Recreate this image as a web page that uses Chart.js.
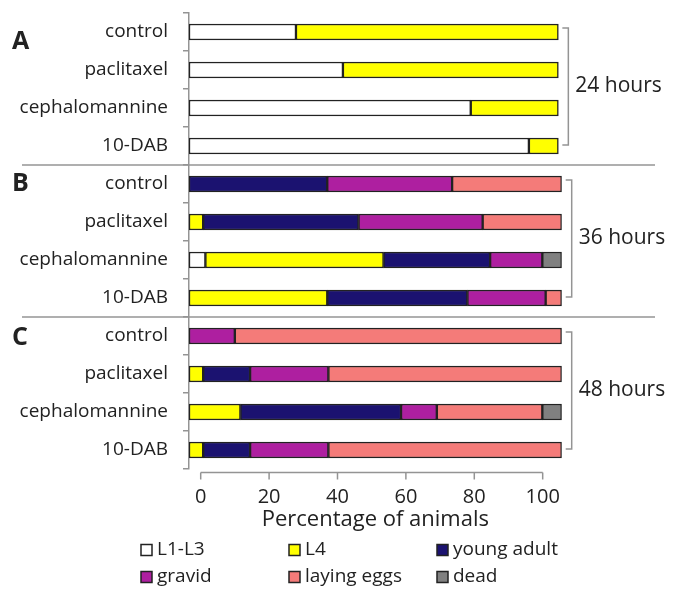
<!DOCTYPE html>
<html>
<head>
<meta charset="utf-8">
<script src="https://cdn.jsdelivr.net/npm/chart.js@4.4.1/dist/chart.umd.min.js"></script>
<style>
  html, body { margin: 0; padding: 0; background: #fff; }
</style>
</head>
<body>
<canvas id="grafico" width="682" height="591"></canvas>
<script>
const tratamientos = ["control", "paclitaxel", "cephalomannine", "10-DAB"]
const paneles = ["A", "B", "C"]
const tiempos = ["24 hours", "36 hours", "48 hours"]
const categorias = [...tratamientos, ...tratamientos, ...tratamientos]

// % de animales por estadio; filas: A (24 h) x4, B (36 h) x4, C (48 h) x4
const l1l3       = [28.7, 41.3, 75.6, 91.2,  null, null, 4.4, null,  null, null, null, null]
const l4         = [70.4, 57.8, 23.5, 7.9,   null, 3.8, 47.8, 37.1,  null, 3.8, 13.8, 3.8]
const youngAdult = [null, null, null, null,  37.1, 41.7, 28.6, 37.6, null, 12.6, 43.1, 12.6]
const gravid     = [null, null, null, null,  33.5, 33.3, 14.0, 21.0, 12.3, 21.0, 9.6, 21.0]
const layingEggs = [null, null, null, null,  29.4, 21.2, null, 4.3,  87.7, 62.6, 28.3, 62.6]
const dead       = [null, null, null, null,  null, null, 5.2, null,  null, null, 5.2, null]
const xTicks = [0, 20, 40, 60, 80, 100]

const etapas = [
    { label: "L1-L3", data: l1l3, color: "#ffffff" },
    { label: "L4", data: l4, color: "#ffff00" },
    { label: "young adult", data: youngAdult, color: "#1b1270" },
    { label: "gravid", data: gravid, color: "#ae1fa0" },
    { label: "laying eggs", data: layingEggs, color: "#f47b79" },
    { label: "dead", data: dead, color: "#808080" }
]

const fuente = "'Open Sans', sans-serif"
const texto = "#222"
const gris = "#949494"

const extras = {
    id: "extras",
    afterDraw(chart) {
        const ctx = chart.ctx
        const x = chart.scales.x
        const y = chart.scales.y
        const x2 = chart.scales.x2
        const area = chart.chartArea
        const linea = (a, b, c, d) => {
            ctx.beginPath()
            ctx.moveTo(a, b)
            ctx.lineTo(c, d)
            ctx.stroke()
        }
        ctx.save()
        ctx.strokeStyle = gris
        ctx.lineWidth = 1.5

        // lineas que separan los paneles
        for (let p = 1; p < paneles.length; p++) {
            const yy = (y.getPixelForValue(p * 4 - 1) + y.getPixelForValue(p * 4)) / 2
            linea(22, yy, 655, yy)
        }

        // eje x de abajo, solo de 0 a 100
        const ejeY = area.bottom + 3.5
        linea(x2.getPixelForValue(xTicks[0]), ejeY, x2.getPixelForValue(xTicks[xTicks.length - 1]), ejeY)
        xTicks.forEach(v => {
            const px = x2.getPixelForValue(v)
            linea(px, ejeY, px, ejeY + 7)
        })

        // llaves y horas
        const offsets = [10, 0, 2]
        paneles.forEach((letra, p) => {
            const i0 = p * 4
            const i1 = p * 4 + 3
            let fin = 0
            for (let i = i0; i <= i1; i++) {
                const suma = etapas.reduce((s, e) => s + (e.data[i] || 0), 0)
                fin = Math.max(fin, suma)
            }
            const bx = x.getPixelForValue(fin) + 10
            const arriba = y.getPixelForValue(i0) - 4
            const abajo = y.getPixelForValue(i1) - 1
            ctx.strokeStyle = gris
            ctx.beginPath()
            ctx.moveTo(bx - 6, arriba)
            ctx.lineTo(bx, arriba)
            ctx.lineTo(bx, abajo)
            ctx.lineTo(bx - 6, abajo)
            ctx.stroke()

            ctx.fillStyle = texto
            ctx.textBaseline = "middle"
            ctx.textAlign = "left"
            ctx.font = "21px " + fuente
            ctx.fillText(tiempos[p], bx + 7, (arriba + abajo) / 2)

            ctx.font = "bold 25px " + fuente
            ctx.fillText(letra, 12, y.getPixelForValue(i0) + offsets[p])
        })

        // leyenda en 3 columnas
        ctx.font = "19px " + fuente
        ctx.lineWidth = 1.5
        etapas.forEach((e, k) => {
            const col = k % 3
            const fila = Math.floor(k / 3)
            const bx = 141 + col * 148
            const by = 550 + fila * 27
            ctx.fillStyle = e.color
            ctx.fillRect(bx, by - 5.5, 11, 11)
            ctx.strokeStyle = texto
            ctx.strokeRect(bx, by - 5.5, 11, 11)
            ctx.fillStyle = texto
            ctx.fillText(e.label, bx + 16, by)
        })
        ctx.restore()
    }
}

const canvas = document.getElementById("grafico")

const grafico = new Chart(canvas, {
    type: "bar",
    data: {
        labels: categorias,
        datasets: etapas.map(e => ({
            label: e.label,
            data: e.data,
            backgroundColor: e.color,
            borderColor: texto,
            borderWidth: 1.5,
            borderSkipped: false,
            barThickness: 16
        }))
    },
    options: {
        indexAxis: "y",
        responsive: false,
        animation: false,
        layout: { padding: { left: 0, top: 13, right: 120.3, bottom: 52 } },
        plugins: {
            legend: { display: false },
            tooltip: { enabled: false }
        },
        scales: {
            x: { stacked: true, min: 0, max: 100, display: false },
            x2: {
                type: "linear",
                position: "bottom",
                min: -3.42,
                max: 105.56,
                afterBuildTicks: s => { s.ticks = xTicks.map(v => ({ value: v })) },
                afterFit: s => { s.height = 70 },
                grid: { display: false, drawTicks: false },
                border: { display: false },
                ticks: { font: { family: fuente, size: 20 }, color: texto, padding: 16 },
                title: {
                    display: true,
                    text: "Percentage of animals",
                    font: { family: fuente, size: 22 },
                    color: texto,
                    padding: { top: 0, bottom: 6 }
                }
            },
            y: {
                stacked: true,
                afterFit: s => {
                    s.width = 189
                    s.paddingTop = 0
                    s.paddingBottom = 0
                },
                grid: { drawOnChartArea: false, color: gris, lineWidth: 1.5, tickLength: 6 },
                border: { color: gris, width: 1.5 },
                ticks: { font: { family: fuente, size: 19 }, color: texto, padding: 15 }
            }
        }
    },
    plugins: [extras]
})
</script>
</body>
</html>
